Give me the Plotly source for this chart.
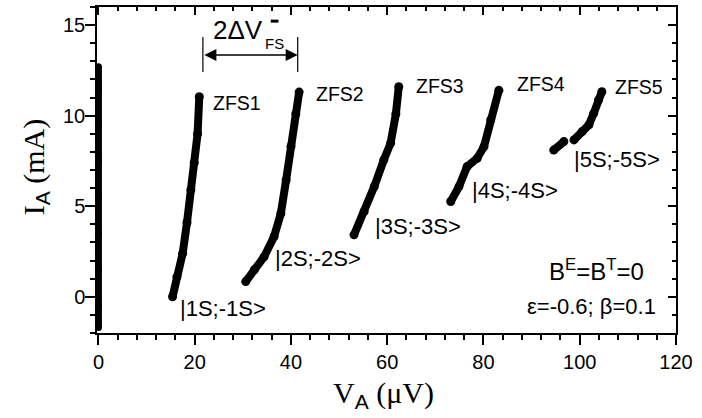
import plotly.graph_objects as go

# ---- data (V_A in microvolts, I_A in mA) ----
zero_x = [0.0, 0.0, 0.0, 0.0, 0.0, 0.0, 0.0, 0.0, 0.0]
zero_y = [-1.7, -0.5, 1.5, 3.5, 5.5, 7.5, 9.5, 11.5, 12.7]

zfs1_x = [15.4, 16.3, 17.5, 18.4, 19.2, 19.9, 20.6, 20.95]
zfs1_y = [0.0, 1.1, 2.4, 4.1, 5.9, 7.4, 9.0, 11.05]

zfs2_x = [30.6, 32.4, 34.4, 36.5, 37.9, 39.0, 40.0, 41.0, 41.7]
zfs2_y = [0.84, 1.49, 2.2, 3.33, 4.6, 6.45, 8.3, 10.1, 11.3]

zfs3_x = [53.1, 55.2, 57.3, 59.3, 60.7, 61.8, 62.4]
zfs3_y = [3.42, 4.7, 6.08, 7.56, 8.48, 10.1, 11.6]

zfs4_x = [73.2, 74.9, 76.6, 78.7, 80.1, 81.5, 83.2]
zfs4_y = [5.26, 6.08, 7.19, 7.65, 8.29, 9.76, 11.4]

zfs5_x = [94.6, 96.7, None, 98.8, 100.5, 101.9, 102.9, 103.9, 104.6]
zfs5_y = [8.1, 8.57, None, 8.66, 9.12, 9.49, 10.13, 10.87, 11.32]

branch_names = ["ZFS1", "ZFS2", "ZFS3", "ZFS4", "ZFS5"]
state_labels = ["|1S;-1S>", "|2S;-2S>", "|3S;-3S>", "|4S;-4S>", "|5S;-5S>"]

x_tickvals = [0, 20, 40, 60, 80, 100, 120]
y_tickvals = [0, 5, 10, 15]

SANS = "Liberation Sans, Arial, sans-serif"
SERIF = "Liberation Serif, Times New Roman, serif"

X_RANGE = [-0.3, 120]
Y_RANGE = [-2, 16]

fig = go.Figure()

fig.add_trace(go.Scatter(x=zero_x, y=zero_y, mode="lines+markers",
                         line=dict(color="black", width=7),
                         marker=dict(color="black", size=7),
                         cliponaxis=False, showlegend=False))

for bx, by in [(zfs1_x, zfs1_y), (zfs2_x, zfs2_y), (zfs3_x, zfs3_y),
               (zfs4_x, zfs4_y), (zfs5_x, zfs5_y)]:
    fig.add_trace(go.Scatter(x=bx, y=by, mode="lines+markers",
                             line=dict(color="black", width=8),
                             marker=dict(color="black", size=9),
                             connectgaps=False, cliponaxis=False,
                             showlegend=False))

# empty trace so the mirror axes get drawn
fig.add_trace(go.Scatter(x=[], y=[], xaxis="x2", yaxis="y2", showlegend=False))

axis_common = dict(showgrid=False, zeroline=False, showline=True,
                   linecolor="black", linewidth=1.5, tickcolor="black",
                   tickwidth=1.5)

fig.update_layout(
    width=702, height=418,
    margin=dict(l=97, r=26, t=7, b=85),
    paper_bgcolor="white", plot_bgcolor="white",
    xaxis=dict(range=X_RANGE, tickvals=x_tickvals, ticks="outside", ticklen=10,
               minor=dict(dtick=4, tick0=0, ticks="outside", ticklen=5,
                          tickcolor="black", tickwidth=1.5),
               tickfont=dict(family=SANS, size=20, color="black"),
               **axis_common),
    yaxis=dict(range=Y_RANGE, tickvals=y_tickvals, ticks="outside", ticklen=10,
               ticklabelstandoff=-4,
               minor=dict(dtick=1, tick0=0, ticks="outside", ticklen=5,
                          tickcolor="black", tickwidth=1.5),
               tickfont=dict(family=SANS, size=20, color="black"),
               **axis_common),
    xaxis2=dict(range=X_RANGE, overlaying="x", side="top", anchor="y",
                tickvals=x_tickvals, ticks="inside", ticklen=8,
                showticklabels=False,
                minor=dict(dtick=4, tick0=0, ticks="inside", ticklen=4,
                           tickcolor="black", tickwidth=1.5),
                **axis_common),
    yaxis2=dict(range=Y_RANGE, overlaying="y", side="right", anchor="x",
                tickvals=y_tickvals, ticks="inside", ticklen=8,
                showticklabels=False,
                minor=dict(dtick=1, tick0=0, ticks="inside", ticklen=4,
                           tickcolor="black", tickwidth=1.5),
                **axis_common),
)

annotations = []
# axis titles
annotations.append(dict(
    xref="paper", yref="paper", x=0.495, y=-0.19, xanchor="center", yanchor="middle",
    text="V<sub><span style='font-family:Liberation Sans'>A</span></sub> (μV)",
    showarrow=False, font=dict(family=SERIF, size=30, color="black")))
annotations.append(dict(
    xref="paper", yref="paper", x=-0.106, y=0.51, xanchor="center", yanchor="middle",
    textangle=-90,
    text="I<sub><span style='font-family:Liberation Sans'>A</span></sub> (mA)",
    showarrow=False, font=dict(family=SERIF, size=30, color="black")))

# branch labels
zfs_pos = [(23.4, 10.7), (44.7, 11.17), (65.5, 11.64), (86.6, 11.75), (106.9, 11.58)]
for name, (px, py) in zip(branch_names, zfs_pos):
    annotations.append(dict(x=px, y=py, xref="x", yref="y", text=name,
                            xanchor="left", yanchor="middle", showarrow=False,
                            font=dict(family=SANS, size=19.5, color="black")))

state_pos = [(16.5, -0.66), (36.2, 2.1), (57.0, 3.86), (77.3, 5.85), (98.4, 7.56)]
for name, (px, py) in zip(state_labels, state_pos):
    annotations.append(dict(x=px, y=py, xref="x", yref="y",
                            text=name.replace("<", "&lt;").replace(">", "&gt;"),
                            xanchor="left", yanchor="middle", showarrow=False,
                            font=dict(family=SANS, size=22, color="black")))

annotations.append(dict(x=93.2, y=1.49, xref="x", yref="y",
                        text="B<sup>E</sup>=B<sup>T</sup>=0",
                        xanchor="left", yanchor="middle", showarrow=False,
                        font=dict(family=SANS, size=24, color="black")))
annotations.append(dict(x=88.7, y=-0.55, xref="x", yref="y",
                        text="ε=-0.6; β=0.1",
                        xanchor="left", yanchor="middle", showarrow=False,
                        font=dict(family=SANS, size=22, color="black")))

# 2ΔV_FS marker
annotations.append(dict(x=23.4, y=14.75, xref="x", yref="y", text="2ΔV",
                        xanchor="left", yanchor="middle", showarrow=False,
                        font=dict(family=SANS, size=26, color="black")))
annotations.append(dict(x=34.2, y=14.0, xref="x", yref="y", text="FS",
                        xanchor="left", yanchor="middle", showarrow=False,
                        font=dict(family=SANS, size=15, color="black")))
annotations.append(dict(x=41.4, y=13.35, xref="x", yref="y", ax=21.7, ay=13.35,
                        axref="x", ayref="y", text="", showarrow=True,
                        arrowhead=2, arrowside="end+start", arrowsize=1.6,
                        arrowwidth=1.5, arrowcolor="black", standoff=0, startstandoff=0))
fig.update_layout(annotations=annotations)

fig.add_shape(type="line", xref="x", yref="y", x0=21.7, x1=21.7, y0=12.41, y1=14.34,
              line=dict(color="black", width=1.2))
fig.add_shape(type="line", xref="x", yref="y", x0=41.4, x1=41.4, y0=12.41, y1=14.34,
              line=dict(color="black", width=1.2))
fig.add_shape(type="line", xref="x", yref="y", x0=35.8, x1=37.4, y0=15.22, y1=15.22,
              line=dict(color="black", width=3))

fig.write_html("out.html", config={"displayModeBar": False},
               post_script="document.body.style.margin='0px';")
